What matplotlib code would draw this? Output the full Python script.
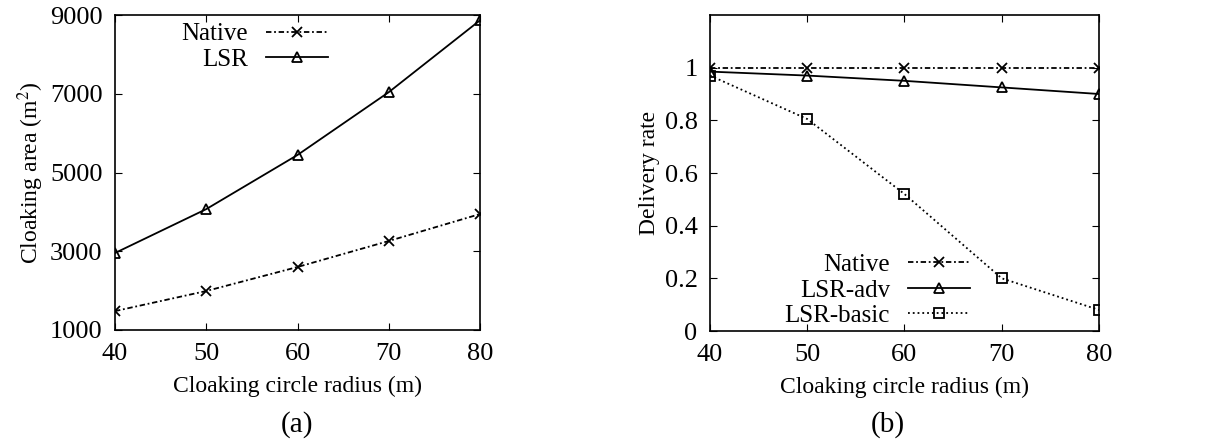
import matplotlib.pyplot as plt

plt.rcParams['font.family'] = ['Liberation Serif', 'DejaVu Serif']
plt.rcParams['mathtext.fontset'] = 'stix'

radius = [40, 50, 60, 70, 80]

# (a) cloaking area
area_native = [1480, 1990, 2600, 3260, 3945]
area_lsr = [2955, 4070, 5445, 7040, 8865]

# (b) delivery rate
rate_native = [1.0, 1.0, 1.0, 1.0, 1.0]
rate_adv = [0.985, 0.97, 0.95, 0.925, 0.9]
rate_basic = [0.97, 0.805, 0.52, 0.2, 0.08]

TICK_FS = 19
LAB_FS = 17
LEG_FS = 18
W, H = 1206, 444

fig = plt.figure(figsize=(12.06, 4.44), dpi=100)
ax1 = fig.add_axes([115 / W, 1 - 330 / H, 365 / W, 315 / H])
ax2 = fig.add_axes([710 / W, 1 - 331 / H, 389 / W, 316 / H])

dashdot = (0, (3, 1.5, 1, 1.5))
mk = dict(color='black', markersize=7.5, markeredgewidth=1.3, linewidth=1.3)

ax1.plot(radius, area_native, linestyle=dashdot, marker='x', label='Native', **mk)
ax1.plot(radius, area_lsr, linestyle='-', marker='^', fillstyle='none', label='LSR', **mk)
ax1.set_xlim(40, 80)
ax1.set_ylim(1000, 9000)
ax1.set_xticks(radius)
ax1.set_yticks([1000, 3000, 5000, 7000, 9000])
ax1.set_xlabel('Cloaking circle radius (m)', fontsize=LAB_FS, labelpad=8)
ax1.set_ylabel('Cloaking area (m$^2$)', fontsize=LAB_FS, labelpad=3)
ax1.legend(loc='upper right', bbox_to_anchor=(328 / W, 1 - 23 / H), bbox_transform=fig.transFigure,
           frameon=False, markerfirst=False, fontsize=LEG_FS, handlelength=2.5,
           handletextpad=0.7, borderpad=0, borderaxespad=0, labelspacing=0.1)

ax2.plot(radius, rate_native, linestyle=dashdot, marker='x', label='Native', **mk)
ax2.plot(radius, rate_adv, linestyle='-', marker='^', fillstyle='none', label='LSR-adv', **mk)
ax2.plot(radius, rate_basic, linestyle=':', marker='s', fillstyle='none', label='LSR-basic', **mk)
ax2.set_xlim(40, 80)
ax2.set_ylim(0, 1.2)
ax2.set_xticks(radius)
ax2.set_yticks([0, 0.2, 0.4, 0.6, 0.8, 1])
ax2.set_yticklabels(['0', '0.2', '0.4', '0.6', '0.8', '1'])
ax2.set_xlabel('Cloaking circle radius (m)', fontsize=LAB_FS, labelpad=8)
ax2.set_ylabel('Delivery rate', fontsize=LAB_FS, labelpad=3)
ax2.legend(loc='lower right', bbox_to_anchor=(970 / W, 1 - 327 / H), bbox_transform=fig.transFigure,
           frameon=False, markerfirst=False, fontsize=LEG_FS, handlelength=2.5,
           handletextpad=0.7, borderpad=0, borderaxespad=0, labelspacing=0.12)

for ax in (ax1, ax2):
    ax.tick_params(direction='in', top=True, right=True, labelsize=TICK_FS, length=5, pad=9)
    for s in ax.spines.values():
        s.set_linewidth(1.2)

fig.text(297 / W, 1 - 425 / H, '(a)', fontsize=21, ha='center', va='center')
fig.text(888 / W, 1 - 425 / H, '(b)', fontsize=21, ha='center', va='center')

plt.savefig('out.png')
